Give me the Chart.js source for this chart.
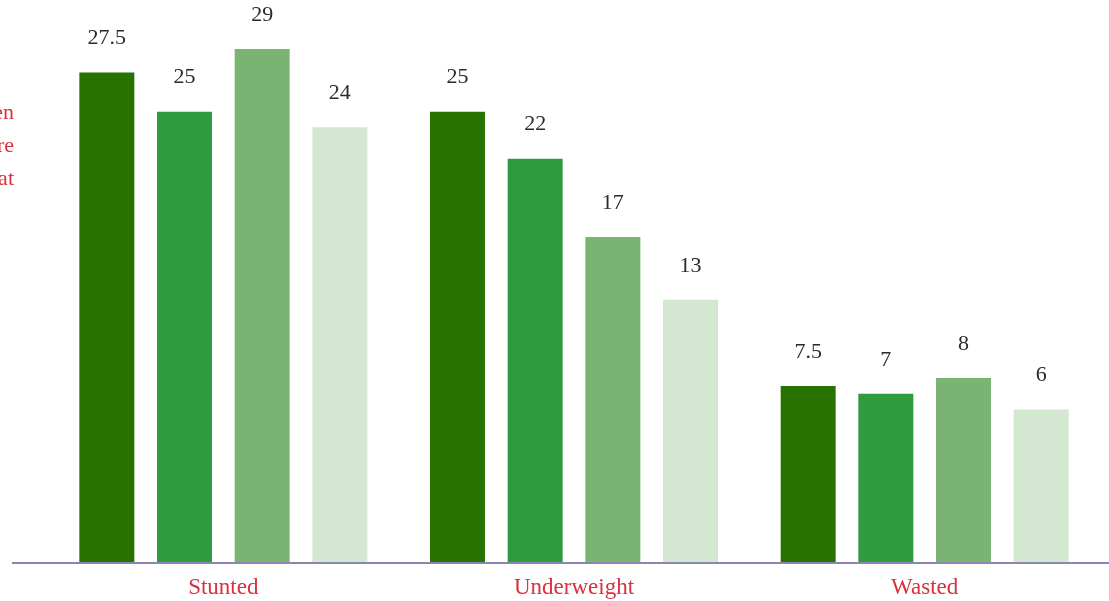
<!DOCTYPE html>
<html>
<head>
<meta charset="utf-8">
<script src="https://cdn.jsdelivr.net/npm/chart.js@4"></script>
<style>
  html, body { margin: 0; padding: 0; background: #fff; }
  #wrap { width: 1109px; height: 601px; }
</style>
</head>
<body>
<div id="wrap"><canvas id="malChart"></canvas></div>
<script>
const categories = ["Stunted", "Underweight", "Wasted"];
const seriesNames = ["Round 1", "Round 2", "Round 3", "Round 4"];
const round1 = [27.5, 25, 7.5];
const round2 = [25, 22, 7];
const round3 = [29, 17, 8];
const round4 = [24, 13, 6];
const colors = ["#287300", "#2e9b3f", "#7ab473", "#d4e7d1"];
const axisTitle = ["Percentage of children", "under five who are", "malnourished at"];

const AXIS_MIN = -3.8;

// value labels above each bar
const valueLabels = {
  id: "valueLabels",
  afterDatasetsDraw(chart) {
    const ctx = chart.ctx;
    ctx.save();
    ctx.font = "22px 'Liberation Serif', 'DejaVu Serif', serif";
    ctx.fillStyle = "#2b2b2b";
    ctx.textAlign = "center";
    ctx.textBaseline = "middle";
    chart.data.datasets.forEach((ds, i) => {
      chart.getDatasetMeta(i).data.forEach((bar, j) => {
        ctx.fillText(String(ds.data[j]), bar.x, bar.y - 34);
      });
    });
    ctx.restore();
  }
};

// baseline + clipped axis title on the left
const extras = {
  id: "extras",
  afterDraw(chart) {
    const ctx = chart.ctx;
    const y = chart.scales.y.getPixelForValue(AXIS_MIN);
    ctx.save();
    ctx.strokeStyle = "#8b84b5";
    ctx.lineWidth = 2;
    ctx.beginPath();
    ctx.moveTo(12, y);
    ctx.lineTo(chart.width, y);
    ctx.stroke();

    ctx.font = "22px 'Liberation Serif', 'DejaVu Serif', serif";
    ctx.fillStyle = "#d9303e";
    ctx.textAlign = "right";
    ctx.textBaseline = "middle";
    axisTitle.forEach((t, i) => ctx.fillText(t, 14, 113 + i * 33));
    ctx.restore();
  }
};

const allSeries = [round1, round2, round3, round4];

new Chart(document.getElementById("malChart"), {
  type: "bar",
  data: {
    labels: categories,
    datasets: allSeries.map((vals, i) => ({
      label: seriesNames[i],
      data: vals,
      backgroundColor: colors[i],
      borderWidth: 0,
      base: AXIS_MIN,
      categoryPercentage: 0.886,
      barPercentage: 0.708
    }))
  },
  options: {
    responsive: true,
    maintainAspectRatio: false,
    animation: false,
    layout: { padding: { left: 48, right: 9, top: 2, bottom: 2 } },
    plugins: {
      legend: { display: false },
      tooltip: { enabled: false }
    },
    scales: {
      x: {
        grid: { display: false },
        border: { display: false },
        afterFit(scale) { scale.height = 36; },
        ticks: {
          color: "#d9303e",
          padding: 3,
          font: { family: "'Liberation Serif', 'DejaVu Serif', serif", size: 23 }
        }
      },
      y: {
        display: false,
        min: AXIS_MIN,
        max: 32
      }
    }
  },
  plugins: [valueLabels, extras]
});
</script>
</body>
</html>
